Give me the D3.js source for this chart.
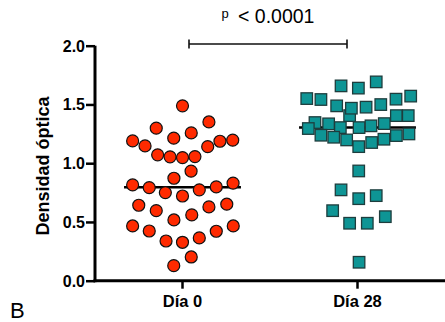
<!DOCTYPE html>
<html><head><meta charset="utf-8">
<script src="https://cdn.jsdelivr.net/npm/d3@7"></script>
<style>body{margin:0;background:#fff}svg{display:block}text{font-family:"Liberation Sans",Arial,sans-serif}</style>
</head><body>
<svg id="c" width="445" height="322"></svg>
<script>
const categories = ["Día 0", "Día 28"];
const day0Values = [1.488,1.351,1.298,1.258,1.213,1.190,1.196,1.187,1.147,1.141,1.071,1.054,1.048,1.056,0.932,0.872,0.815,0.792,0.750,0.721,0.773,0.798,0.830,0.642,0.596,0.517,0.560,0.628,0.651,0.466,0.423,0.338,0.327,0.364,0.421,0.466,0.128,0.202];
const day0Jitter = [0.00,0.151,-0.150,0.050,-0.050,-0.285,0.287,0.214,-0.214,0.144,-0.142,-0.071,0.00,0.071,0.049,-0.049,-0.285,-0.190,-0.098,0.00,0.096,0.193,0.289,-0.250,-0.150,-0.049,0.053,0.151,0.253,-0.285,-0.190,-0.094,0.00,0.096,0.193,0.290,-0.050,0.050];
const day28Values = [1.405,1.658,1.639,1.692,1.550,1.542,1.488,1.468,1.477,1.499,1.545,1.571,1.346,1.335,1.295,1.303,1.303,1.318,1.337,1.405,1.405,1.238,1.221,1.198,1.141,1.176,1.204,1.235,1.249,0.934,0.773,0.698,0.724,0.596,0.489,0.489,0.545,0.157];
const day28Jitter = [-0.045,-0.094,0.005,0.107,-0.290,-0.209,-0.119,-0.035,0.049,0.133,0.220,0.304,-0.243,-0.165,-0.281,-0.098,0.009,0.077,0.153,0.222,0.290,-0.209,-0.136,-0.062,0.007,0.081,0.151,0.222,0.294,0.007,-0.094,0.007,0.107,-0.142,-0.045,0.056,0.159,0.009];
const medians = [0.795, 1.303];
const yTicks = [0, 0.5, 1.0, 1.5, 2.0];
const yLabel = "Densidad óptica";
const pText = "< 0.0001";
const panelLabel = "B";

const svg = d3.select("#c");
const x = d3.scaleBand().domain(categories).range([95, 445]);
const y = d3.scaleLinear().domain([0, 2]).range([280.7, 45.7]);
const bw = x.bandwidth();
const cx = (c, j) => x(c) + bw / 2 + j * bw;

// axes
const yAxis = svg.append("g").attr("transform", "translate(95,0)")
  .call(d3.axisLeft(y).tickValues(yTicks).tickFormat(d3.format(".1f")).tickSize(9).tickPadding(1));
const xAxis = svg.append("g").attr("transform", "translate(0,280.7)")
  .call(d3.axisBottom(x).tickSize(8));
[yAxis, xAxis].forEach(g => {
  g.select(".domain").attr("stroke", "#000").attr("stroke-width", 3);
  g.selectAll(".tick line").attr("stroke", "#000").attr("stroke-width", 2.5);
  g.selectAll("text").attr("fill", "#000").attr("font-weight", "bold");
});
yAxis.selectAll("text").attr("font-size", 16).attr("dy", "0.34em");
xAxis.selectAll("text").attr("font-size", 16.5).attr("y", 26).attr("dy", 0);
yAxis.select(".domain").attr("d", "M0,45.7V282.2");
xAxis.select(".domain").attr("d", "M93.5,0H445");

// y label
svg.append("text").attr("transform", "translate(48.5,166) rotate(-90)")
  .attr("text-anchor", "middle").attr("font-weight", "bold").attr("font-size", 18)
  .text(yLabel);

// median lines
medians.forEach((m, i) => {
  const c = categories[i];
  svg.append("line").attr("x1", cx(c, -0.334)).attr("x2", cx(c, 0.334))
    .attr("y1", y(m)).attr("y2", y(m)).attr("stroke", "#000").attr("stroke-width", 2.5);
});

// circles
svg.append("g").selectAll("circle").data(day0Values).join("circle")
  .attr("cx", (d, i) => cx(categories[0], day0Jitter[i]))
  .attr("cy", d => y(d)).attr("r", 6)
  .attr("fill", "#ff2a00").attr("stroke", "#111").attr("stroke-width", 1.2);

// squares
const s = 11.5;
svg.append("g").selectAll("rect").data(day28Values).join("rect")
  .attr("x", (d, i) => cx(categories[1], day28Jitter[i]) - s / 2)
  .attr("y", d => y(d) - s / 2).attr("width", s).attr("height", s)
  .attr("fill", "#0e9595").attr("stroke", "#1e3d3d").attr("stroke-width", 1.3);

// significance bracket
const bx1 = x(categories[0]) + bw / 2 + 6.5, bx2 = x(categories[1]) + bw / 2 - 10.5, by = 44;
svg.append("path").attr("d", `M${bx1},${by}H${bx2}M${bx1},${by-4.5}V${by+4.5}M${bx2},${by-4.5}V${by+4.5}`)
  .attr("stroke", "#111").attr("stroke-width", 1.6).attr("fill", "none");
svg.append("text").attr("x", 221.5).attr("y", 18).attr("font-size", 13).text("p");
svg.append("text").attr("x", 238).attr("y", 23).attr("font-size", 19.5).text(pText);

svg.append("text").attr("x", 10).attr("y", 318).attr("font-size", 22).text(panelLabel);
</script>
</body></html>
